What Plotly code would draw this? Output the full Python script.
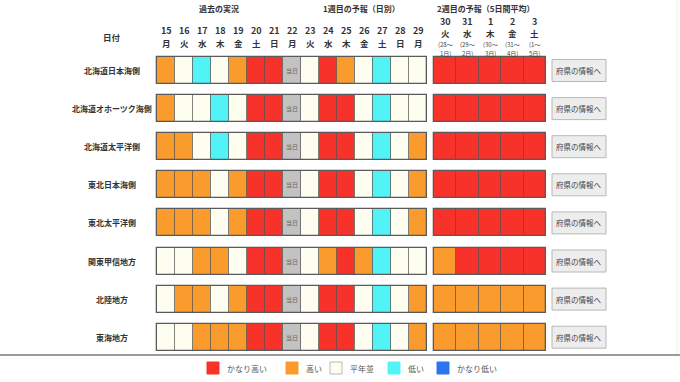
import plotly.graph_objects as go

# ---------------- data ----------------
REGIONS = ["北海道日本海側", "北海道オホーツク海側", "北海道太平洋側", "東北日本海側",
           "東北太平洋側", "関東甲信地方", "北陸地方", "東海地方"]

DAY_NUMS = ["15", "16", "17", "18", "19", "20", "21", "22", "23", "24", "25", "26", "27", "28", "29"]
DAY_WEEKDAYS = ["月", "火", "水", "木", "金", "土", "日", "月", "火", "水", "木", "金", "土", "日", "月"]

WEEK2_NUMS = ["30", "31", "1", "2", "3"]
WEEK2_WEEKDAYS = ["火", "水", "木", "金", "土"]
WEEK2_FROM = ["(28～", "(29～", "(30～", "(31～", "(1～"]
WEEK2_TO = ["1日)", "2日)", "3日)", "4日)", "5日)"]

# codes: R=かなり高い O=高い N=平年並 C=低い B=かなり低い T=当日
DAILY = [
    "ONCNORRTNRONCNN",
    "ONNCNRRTNRRNCNN",
    "OONCNRRTNRRNCNO",
    "OOONORRTNRRNCNO",
    "OOONORRTNRRNCNO",
    "NNOONRRTNOROCNN",
    "NOONORRTNRRNCNO",
    "NNOOORRTNRRNCNO",
]
WEEK2 = ["RRRRR", "RRRRR", "RRRRR", "RRRRR", "RRRRR", "ORRRR", "OOOOO", "OOOOO"]

CATEGORIES = ["R", "O", "N", "C", "B"]
CATEGORY_NAMES = ["かなり高い", "高い", "平年並", "低い", "かなり低い"]
TODAY_LABEL = "当日"
BUTTON_LABEL = "府県の情報へ"
HEADERS = ["過去の実況", "1週目の予報（日別）", "2週目の予報（5日間平均）"]

# ---------------- styles / layout ----------------
COLORS = {"R": "#f6322a", "O": "#f99b2d", "N": "#fdfdf0", "C": "#52f3f7",
          "B": "#2f74ef", "T": "#c2c2c2"}
FONT = "Noto Sans CJK JP"
W, H = 680, 382
X0, CW = 157, 18.0          # day grid left edge & cell width (px)
X2, CW2 = 434, 22.4         # week-2 grid left edge & cell width
ROW0, PITCH, CH = 70.5, 38.1, 27.0


def row_c(r):
    return ROW0 + PITCH * r


def day_c(i):
    return X0 + CW * (i + 0.5)


def wk2_c(j):
    return X2 + CW2 * (j + 0.5)


fig = go.Figure()

# cells, one trace per category
all_codes = CATEGORIES + ["T"]
for code in all_codes:
    xs, bases, widths = [], [], []
    for r in range(len(REGIONS)):
        for i, c in enumerate(DAILY[r]):
            if c == code:
                xs.append(day_c(i)); bases.append(row_c(r) - CH / 2); widths.append(CW)
        for j, c in enumerate(WEEK2[r]):
            if c == code:
                xs.append(wk2_c(j)); bases.append(row_c(r) - CH / 2); widths.append(CW2)
    if not xs:
        continue
    fig.add_trace(go.Bar(
        x=xs, y=[CH] * len(xs), base=bases, width=widths,
        marker=dict(color=COLORS[code], line=dict(color="rgba(70,70,70,0.55)", width=1)),
        showlegend=False, hoverinfo="skip",
    ))

# group frames
fx, fb, fw = [], [], []
for r in range(len(REGIONS)):
    n1, n2 = len(DAILY[r]), len(WEEK2[r])
    fx += [X0 + CW * n1 / 2, X2 + CW2 * n2 / 2]
    fw += [CW * n1, CW2 * n2]
    fb += [row_c(r) - CH / 2] * 2
fig.add_trace(go.Bar(x=fx, y=[CH] * len(fx), base=fb, width=fw,
                     marker=dict(color="rgba(0,0,0,0)", line=dict(color="#5a5a5a", width=1.3)),
                     showlegend=False, hoverinfo="skip"))

ann = []
shapes = []

# headers
hdr_x = [219, 361, 485]
for t, x in zip(HEADERS, hdr_x):
    ann.append(dict(x=x, y=8, text=f"<b>{t}</b>", font=dict(size=8, color="#333")))
ann.append(dict(x=112, y=37, text="<b>日付</b>", font=dict(size=8.5, color="#333")))

for i, (d, wd) in enumerate(zip(DAY_NUMS, DAY_WEEKDAYS)):
    ann.append(dict(x=day_c(i), y=30, text=f"<b>{d}</b>", font=dict(size=9, color="#333")))
    ann.append(dict(x=day_c(i), y=43, text=f"<b>{wd}</b>", font=dict(size=8.5, color="#333")))
for j in range(len(WEEK2_NUMS)):
    ann.append(dict(x=wk2_c(j), y=21, text=f"<b>{WEEK2_NUMS[j]}</b>", font=dict(size=9, color="#333")))
    ann.append(dict(x=wk2_c(j), y=32.5, text=f"<b>{WEEK2_WEEKDAYS[j]}</b>", font=dict(size=8.5, color="#333")))
    ann.append(dict(x=wk2_c(j), y=44, text=WEEK2_FROM[j], font=dict(size=6, color="#444")))
    ann.append(dict(x=wk2_c(j), y=53, text=WEEK2_TO[j], font=dict(size=6, color="#444")))

for r, name in enumerate(REGIONS):
    ann.append(dict(x=112, y=row_c(r), text=f"<b>{name}</b>", font=dict(size=8, color="#333")))
    for i, c in enumerate(DAILY[r]):
        if c == "T":
            ann.append(dict(x=day_c(i), y=row_c(r), text=TODAY_LABEL, font=dict(size=6, color="#666")))
    # button
    shapes.append(dict(type="rect", xref="x", yref="y", x0=552, x1=606,
                       y0=row_c(r) - 11, y1=row_c(r) + 11,
                       fillcolor="#ededed", line=dict(color="#b8b8b8", width=1), layer="above"))
    ann.append(dict(x=579, y=row_c(r), text=BUTTON_LABEL, font=dict(size=7.5, color="#444")))

# separator
shapes.append(dict(type="line", xref="x", yref="y", x0=0, x1=W, y0=355, y1=355,
                   line=dict(color="#7a7a7a", width=1.5)))
shapes.append(dict(type="line", xref="x", yref="y", x0=677, x1=677, y0=0, y1=354,
                   line=dict(color="#ececec", width=1)))

# legend (custom)
leg_x = [207, 286, 330, 388, 437]
for code, name, lx in zip(CATEGORIES, CATEGORY_NAMES, leg_x):
    shapes.append(dict(type="rect", xref="x", yref="y", x0=lx, x1=lx + 12, y0=362, y1=374,
                       fillcolor=COLORS[code],
                       line=dict(color="#bbbbbb" if code == "N" else COLORS[code], width=1)))
    ann.append(dict(x=lx + 19, y=368, text=name, xanchor="left",
                    font=dict(size=8, color="#555")))

for a in ann:
    a.setdefault("xref", "x")
    a.setdefault("yref", "y")
    a.setdefault("showarrow", False)
    a.setdefault("xanchor", "center")
    a.setdefault("yanchor", "middle")
    a.setdefault("borderpad", 0)

fig.update_layout(
    width=W, height=H, margin=dict(l=0, r=0, t=0, b=0),
    paper_bgcolor="white", plot_bgcolor="white",
    barmode="overlay", bargap=0,
    font=dict(family=FONT),
    xaxis=dict(range=[0, W], visible=False, fixedrange=True),
    yaxis=dict(range=[H, 0], visible=False, fixedrange=True),
    annotations=ann, shapes=shapes, showlegend=False,
)

fig.write_html(
    "out.html",
    config={"displayModeBar": False},
    post_script="document.body.style.margin='0';document.body.style.overflow='hidden';",
)
